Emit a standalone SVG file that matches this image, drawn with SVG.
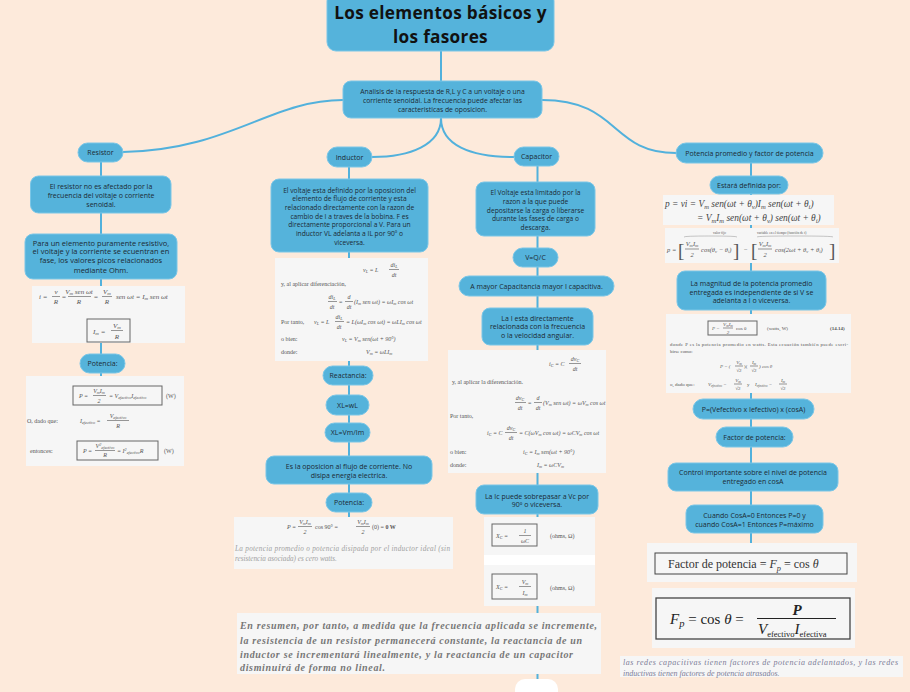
<svg xmlns="http://www.w3.org/2000/svg" width="910" height="692" viewBox="0 0 910 692">
<style>
.bg{fill:#fdeadb}
.n{fill:#55b3db;stroke:#7ac6e7;stroke-width:1}
.t{font-family:"Open Sans","Noto Sans",sans-serif;font-size:7px;fill:#1c2a34;text-anchor:middle}
.c{fill:none;stroke:#52b1dc;stroke-width:2}
.im{fill:#f6f6f6}
.f{font-family:"Liberation Serif",serif;font-size:6px;fill:#555}
.f7{font-size:7px}
.fm{text-anchor:middle}
.i{font-style:italic}
.sb{font-size:70%;baseline-shift:-0.3em}
.sp{font-size:70%;baseline-shift:0.5em}
.fl{stroke:#555;stroke-width:0.6}
.bx{fill:none;stroke:#666;stroke-width:1}
.note{font-family:"Liberation Serif",serif;font-style:italic}
</style>
<rect class="bg" x="0" y="0" width="910" height="692"/>

<g id="connectors">
<path class="c" d="M441,51 V81"/>
<path class="c" d="M343,100 C270,100 230,150 123,152"/>
<path class="c" d="M441,118 C441,145 410,157 372,157"/>
<path class="c" d="M441,118 C441,145 470,157 514,157"/>
<path class="c" d="M542,100 C620,100 610,153 676,153"/>
<path class="c" d="M101,162 V376"/>
<path class="c" d="M349,167 V517"/>
<path class="c" d="M537.5,166 V692"/>
<path class="c" d="M751,163 V543"/>
</g>

<g id="title">
<rect class="n" x="327" y="-8" width="227" height="59" rx="9"/>
<text class="t" style="font-size:17.2px;font-weight:700;fill:#111;letter-spacing:0.3px" x="440.5" y="19">Los elementos básicos y</text>
<text class="t" style="font-size:17.2px;font-weight:700;fill:#111;letter-spacing:0.3px" x="440.5" y="42.5">los fasores</text>
</g>

<g id="central">
<rect class="n" x="343" y="81" width="199" height="37" rx="8"/>
<text class="t" style="font-size:6.8px" x="442.5" y="94">Analisis de la respuesta de R,L y C a un voltaje o una</text>
<text class="t" style="font-size:6.8px" x="442.5" y="102.5">corriente senoidal. La frecuencia puede afectar las</text>
<text class="t" style="font-size:6.8px" x="442.5" y="111.5">caracteristicas de oposicion.</text>
</g>

<!-- Resistor column -->
<g id="resistor">
<rect class="n" x="78" y="143" width="45" height="19" rx="9.5"/>
<text class="t" x="100.5" y="155">Resistor</text>
</g>
<g id="r-noafectado">
<rect class="n" x="30.5" y="176" width="140.5" height="37" rx="8"/>
<text class="t" x="101" y="189">El resistor no es afectado por la</text>
<text class="t" x="101" y="197.5">frecuencia del voltaje o corriente</text>
<text class="t" x="101" y="206.5">senoidal.</text>
</g>
<g id="r-fase">
<rect class="n" x="25" y="234" width="152" height="45" rx="8"/>
<text class="t" style="font-size:7.5px" x="101" y="245.5">Para un elemento puramente resistivo,</text>
<text class="t" style="font-size:7.5px" x="101" y="254">el voltaje y la corriente se ecuentran en</text>
<text class="t" style="font-size:7.5px" x="101" y="263">fase, los valores picos relacionados</text>
<text class="t" style="font-size:7.5px" x="101" y="272.5">mediante Ohm.</text>
</g>
<g id="r-formula1">
<rect class="im" x="32" y="286" width="153" height="57"/>
<text class="f f7 i" x="39" y="299">i =</text>
<text class="f f7 i fm" x="56" y="294">v</text>
<line class="fl" x1="52" y1="296.5" x2="60" y2="296.5"/>
<text class="f f7 i fm" x="56" y="304">R</text>
<text class="f f7" x="62" y="299">=</text>
<text class="f f7 i fm" x="79" y="294">V<tspan class="sb">m</tspan> sen ωt</text>
<line class="fl" x1="68" y1="296.5" x2="91" y2="296.5"/>
<text class="f f7 i fm" x="79" y="304">R</text>
<text class="f f7" x="94" y="299">=</text>
<text class="f f7 i fm" x="107" y="294">V<tspan class="sb">m</tspan></text>
<line class="fl" x1="102" y1="296.5" x2="112" y2="296.5"/>
<text class="f f7 i fm" x="107" y="304">R</text>
<text class="f f7 i" x="116" y="299">sen ωt = I<tspan class="sb">m</tspan> sen ωt</text>
<rect class="bx" x="87" y="319" width="43" height="23"/>
<text class="f f7 i" x="93" y="334">I<tspan class="sb">m</tspan> =</text>
<text class="f f7 i fm" x="117" y="328">V<tspan class="sb">m</tspan></text>
<line class="fl" x1="111" y1="330.5" x2="123" y2="330.5"/>
<text class="f f7 i fm" x="117" y="339">R</text>
</g>
<g id="r-potencia">
<rect class="n" x="80" y="354" width="45" height="19" rx="9.5"/>
<text class="t" x="102.5" y="366">Potencia:</text>
</g>
<g id="r-formula2">
<rect class="im" x="26" y="376" width="158" height="90"/>
<rect class="bx" x="73" y="386" width="89" height="19"/>
<text class="f i" x="79" y="398">P =</text>
<text class="f i fm" x="99" y="393">V<tspan class="sb">m</tspan>I<tspan class="sb">m</tspan></text>
<line class="fl" x1="93" y1="395.5" x2="106" y2="395.5"/>
<text class="f i fm" x="99" y="403">2</text>
<text class="f i" x="109" y="398">= V<tspan class="sb">efectivo</tspan>I<tspan class="sb">efectivo</tspan></text>
<text class="f" x="166" y="398">(W)</text>
<text class="f" x="27" y="423">O, dado que:</text>
<text class="f i" x="80" y="423">I<tspan class="sb">efectivo</tspan> =</text>
<text class="f i fm" x="118" y="418">V<tspan class="sb">efectivo</tspan></text>
<line class="fl" x1="107" y1="420.5" x2="129" y2="420.5"/>
<text class="f i fm" x="118" y="428">R</text>
<text class="f" x="30" y="453">entonces:</text>
<rect class="bx" x="77" y="441" width="81" height="19"/>
<text class="f i" x="83" y="453">P =</text>
<text class="f i fm" x="105" y="448">V<tspan class="sp">2</tspan><tspan class="sb">efectivo</tspan></text>
<line class="fl" x1="95" y1="450.5" x2="115" y2="450.5"/>
<text class="f i fm" x="105" y="457">R</text>
<text class="f i" x="117" y="453">= I<tspan class="sp">2</tspan><tspan class="sb">efectivo</tspan>R</text>
<text class="f" x="164" y="453">(W)</text>
</g>

<!-- Inductor column -->
<g id="inductor">
<rect class="n" x="327" y="147" width="45" height="20" rx="10"/>
<text class="t" x="349.5" y="159.5">Inductor</text>
</g>
<g id="i-definido">
<rect class="n" x="271" y="179" width="157" height="73" rx="8"/>
<text class="t" style="font-size:6.7px" x="349.5" y="192.5">El voltaje esta definido por la oposicion del</text>
<text class="t" style="font-size:6.7px" x="349.5" y="201">elemento de flujo de corriente y esta</text>
<text class="t" style="font-size:6.7px" x="349.5" y="209.5">relacionado directamente con la razon de</text>
<text class="t" style="font-size:6.7px" x="349.5" y="218.5">cambio de I a traves de la bobina. F es</text>
<text class="t" style="font-size:6.7px" x="349.5" y="227">directamente proporcional a V. Para un</text>
<text class="t" style="font-size:6.7px" x="349.5" y="235.5">inductor VL adelanta a IL por 90º o</text>
<text class="t" style="font-size:6.7px" x="349.5" y="244.5">viceversa.</text>
</g>
<g id="i-formula">
<rect class="im" x="275" y="258" width="153" height="103"/>
<text class="f i" x="363" y="272">v<tspan class="sb">L</tspan> = L</text>
<text class="f i fm" x="394" y="267">di<tspan class="sb">L</tspan></text>
<line class="fl" x1="389" y1="269.5" x2="399" y2="269.5"/>
<text class="f i fm" x="394" y="277">dt</text>
<text class="f" x="281" y="286">y, al aplicar diferenciación,</text>
<text class="f i fm" x="332" y="299">di<tspan class="sb">L</tspan></text>
<line class="fl" x1="328" y1="301.5" x2="337" y2="301.5"/>
<text class="f i fm" x="332" y="309">dt</text>
<text class="f" x="339" y="304">=</text>
<text class="f i fm" x="349" y="299">d</text>
<line class="fl" x1="345" y1="301.5" x2="353" y2="301.5"/>
<text class="f i fm" x="349" y="309">dt</text>
<text class="f i" x="354" y="304">(I<tspan class="sb">m</tspan> sen ωt) = ωI<tspan class="sb">m</tspan> cos ωt</text>
<text class="f" x="281" y="324">Por tanto,</text>
<text class="f i" x="314" y="324">v<tspan class="sb">L</tspan> = L</text>
<text class="f i fm" x="339" y="319">di<tspan class="sb">L</tspan></text>
<line class="fl" x1="335" y1="321.5" x2="344" y2="321.5"/>
<text class="f i fm" x="339" y="329">dt</text>
<text class="f i" x="346" y="324">= L(ωI<tspan class="sb">m</tspan> cos ωt) = ωLI<tspan class="sb">m</tspan> cos ωt</text>
<text class="f" x="281" y="341">o bien:</text>
<text class="f i" x="342" y="341">v<tspan class="sb">L</tspan> = V<tspan class="sb">m</tspan> sen(ωt + 90°)</text>
<text class="f" x="281" y="354">donde:</text>
<text class="f i" x="366" y="354">V<tspan class="sb">m</tspan> = ωLI<tspan class="sb">m</tspan></text>
</g>
<g id="i-reactancia">
<rect class="n" x="323" y="366" width="50" height="19" rx="9.5"/>
<text class="t" x="348" y="378">Reactancia:</text>
</g>
<g id="i-xlwl">
<rect class="n" x="326" y="395" width="43" height="20" rx="10"/>
<text class="t" x="347.5" y="407.5">XL=wL</text>
</g>
<g id="i-xlvm">
<rect class="n" x="325" y="423" width="45" height="19" rx="9.5"/>
<text class="t" x="347.5" y="435">XL=Vm/Im</text>
</g>
<g id="i-oposicion">
<rect class="n" x="266" y="456" width="166" height="28" rx="8"/>
<text class="t" x="349" y="469">Es la oposicion al flujo de corriente. No</text>
<text class="t" x="349" y="477.5">disipa energia electrica.</text>
</g>
<g id="i-potencia">
<rect class="n" x="326" y="493" width="46" height="19" rx="9.5"/>
<text class="t" x="349" y="505">Potencia:</text>
</g>
<g id="i-formula2">
<rect class="im" x="234" y="517" width="219" height="52"/>
<text class="f i" x="287" y="529">P =</text>
<text class="f i fm" x="305" y="524">V<tspan class="sb">m</tspan>I<tspan class="sb">m</tspan></text>
<line class="fl" x1="298" y1="526.5" x2="312" y2="526.5"/>
<text class="f i fm" x="305" y="534">2</text>
<text class="f" x="315" y="529">cos 90° =</text>
<text class="f i fm" x="363" y="524">V<tspan class="sb">m</tspan>I<tspan class="sb">m</tspan></text>
<line class="fl" x1="356" y1="526.5" x2="370" y2="526.5"/>
<text class="f i fm" x="363" y="534">2</text>
<text class="f" x="372" y="529">(0) = <tspan font-weight="bold">0 W</tspan></text>
<text class="note" style="font-size:7.2px;fill:#a0a0a0" x="235" y="551" textLength="215">La potencia promedio o potencia disipada por el inductor ideal (sin</text>
<text class="note" style="font-size:7.2px;fill:#a0a0a0" x="235" y="561">resistencia asociada) es cero watts.</text>
</g>

<!-- Capacitor column -->
<g id="capacitor">
<rect class="n" x="514" y="147" width="45" height="19" rx="9.5"/>
<text class="t" x="536.5" y="159">Capacitor</text>
</g>
<g id="c-limitado">
<rect class="n" x="476" y="182" width="119" height="54" rx="8"/>
<text class="t" style="font-size:6.7px" x="535.5" y="195">El Voltaje esta limitado por la</text>
<text class="t" style="font-size:6.7px" x="535.5" y="203.5">razon a la que puede</text>
<text class="t" style="font-size:6.7px" x="535.5" y="212.5">depositarse la carga o liberarse</text>
<text class="t" style="font-size:6.7px" x="535.5" y="221">durante las fases de carga o</text>
<text class="t" style="font-size:6.7px" x="535.5" y="230">descarga.</text>
</g>
<g id="c-vqc">
<rect class="n" x="513" y="248" width="45" height="19" rx="9.5"/>
<text class="t" x="535.5" y="260">V=Q/C</text>
</g>
<g id="c-mayor">
<rect class="n" x="459" y="276" width="155" height="20" rx="10"/>
<text class="t" x="536.5" y="288.5">A mayor Capacitancia mayor I capacitiva.</text>
</g>
<g id="c-frecuencia">
<rect class="n" x="482" y="308" width="111" height="37" rx="8"/>
<text class="t" x="537.5" y="320.5">La I esta directamente</text>
<text class="t" x="537.5" y="329">relacionada con la frecuencia</text>
<text class="t" x="537.5" y="338">o la velocidad angular.</text>
</g>
<g id="c-formula">
<rect class="im" x="448" y="350" width="158" height="123"/>
<text class="f i" x="549" y="366">i<tspan class="sb">C</tspan> = C</text>
<text class="f i fm" x="575" y="361">dv<tspan class="sb">C</tspan></text>
<line class="fl" x1="569" y1="363.5" x2="581" y2="363.5"/>
<text class="f i fm" x="575" y="371">dt</text>
<text class="f" x="452" y="384">y, al aplicar la diferenciación.</text>
<text class="f i fm" x="520" y="400">dv<tspan class="sb">C</tspan></text>
<line class="fl" x1="515" y1="402.5" x2="526" y2="402.5"/>
<text class="f i fm" x="520" y="410">dt</text>
<text class="f" x="528" y="405">=</text>
<text class="f i fm" x="538" y="400">d</text>
<line class="fl" x1="534" y1="402.5" x2="542" y2="402.5"/>
<text class="f i fm" x="538" y="410">dt</text>
<text class="f i" x="543" y="405">(V<tspan class="sb">m</tspan> sen ωt) = ωV<tspan class="sb">m</tspan> cos ωt</text>
<text class="f" x="450" y="418">Por tanto,</text>
<text class="f i" x="487" y="435">i<tspan class="sb">C</tspan> = C</text>
<text class="f i fm" x="511" y="430">dv<tspan class="sb">C</tspan></text>
<line class="fl" x1="505" y1="432.5" x2="517" y2="432.5"/>
<text class="f i fm" x="511" y="440">dt</text>
<text class="f i" x="519" y="435">= C(ωV<tspan class="sb">m</tspan> cos ωt) = ωCV<tspan class="sb">m</tspan> cos ωt</text>
<text class="f" x="450" y="454">o bien:</text>
<text class="f i" x="523" y="454">i<tspan class="sb">C</tspan> = I<tspan class="sb">m</tspan> sen(ωt + 90°)</text>
<text class="f" x="450" y="467">donde:</text>
<text class="f i" x="537" y="467">I<tspan class="sb">m</tspan> = ωCV<tspan class="sb">m</tspan></text>
</g>
<g id="c-sobrepasar">
<rect class="n" x="476" y="485" width="122" height="29" rx="8"/>
<text class="t" x="537" y="498.5">La Ic puede sobrepasar a Vc por</text>
<text class="t" x="537" y="507">90º o viceversa.</text>
</g>
<g id="c-formula2">
<rect class="im" x="484" y="517" width="111" height="89"/>
<rect x="484" y="555" width="111" height="10" fill="#ffffff"/>
<rect class="bx" x="492" y="524" width="45" height="22"/>
<text class="f i" x="496" y="538">X<tspan class="sb">C</tspan> =</text>
<text class="f i fm" x="525" y="533">1</text>
<line class="fl" x1="519" y1="535.5" x2="531" y2="535.5"/>
<text class="f i fm" x="525" y="543">ωC</text>
<text class="f" x="550" y="538">(ohms, Ω)</text>
<rect class="bx" x="492" y="574" width="45" height="25"/>
<text class="f i" x="496" y="589">X<tspan class="sb">C</tspan> =</text>
<text class="f i fm" x="525" y="584">V<tspan class="sb">m</tspan></text>
<line class="fl" x1="519" y1="586.5" x2="531" y2="586.5"/>
<text class="f i fm" x="525" y="595">I<tspan class="sb">m</tspan></text>
<text class="f" x="550" y="590">(ohms, Ω)</text>
</g>
<g id="resumen">
<rect class="im" x="237" y="613" width="364" height="61"/>
<text class="note" style="font-size:10px;font-weight:bold;fill:#767676" x="240" y="629" textLength="357">En resumen, por tanto, a medida que la frecuencia aplicada se incremente,</text>
<text class="note" style="font-size:10px;font-weight:bold;fill:#767676" x="240" y="643.5" textLength="342">la resistencia de un resistor permanecerá constante, la reactancia de un</text>
<text class="note" style="font-size:10px;font-weight:bold;fill:#767676" x="240" y="657.5" textLength="333">inductor se incrementará linealmente, y la reactancia de un capacitor</text>
<text class="note" style="font-size:10px;font-weight:bold;fill:#767676" x="240" y="671" textLength="145">disminuirá de forma no lineal.</text>
</g>
<g id="c-bottom">
<rect x="515" y="679" width="43" height="30" rx="10" fill="#ffffff"/>
</g>

<!-- Potencia column -->
<g id="potencia-promedio">
<rect class="n" x="676" y="143" width="147" height="20" rx="10"/>
<text class="t" x="749.5" y="155.5">Potencia promedio y factor de potencia</text>
</g>
<g id="p-definida">
<rect class="n" x="710" y="176" width="78" height="18" rx="9"/>
<text class="t" x="749" y="187.5">Estará definida por:</text>
</g>
<g id="p-formula1">
<rect class="im" x="663" y="195" width="171" height="30"/>
<text class="f i" style="font-size:9.4px;fill:#444" x="665" y="207">p = vi = V<tspan class="sb">m</tspan> sen(ωt + θ<tspan class="sb">v</tspan>)I<tspan class="sb">m</tspan> sen(ωt + θ<tspan class="sb">i</tspan>)</text>
<text class="f i" style="font-size:9.4px;fill:#444" x="697" y="221">= V<tspan class="sb">m</tspan>I<tspan class="sb">m</tspan> sen(ωt + θ<tspan class="sb">v</tspan>) sen(ωt + θ<tspan class="sb">i</tspan>)</text>
</g>
<g id="p-formula2">
<rect class="im" x="665" y="228" width="174" height="35"/>
<text class="f" style="font-size:3.5px" x="713" y="234">valor fijo</text>
<text class="f" style="font-size:3.5px" x="757" y="234">variable en el tiempo (función de t)</text>
<path d="M684,237 Q684,236 710,236 Q737,236 737,237 M757,237 Q757,236 795,236 Q833,236 833,237" fill="none" stroke="#777" stroke-width="0.4"/>
<text class="f i" style="font-size:6.5px" x="667" y="252">p =</text>
<text class="f" style="font-size:19px" x="678" y="257">[</text>
<text class="f i fm" style="font-size:6.5px" x="692" y="246">V<tspan class="sb">m</tspan>I<tspan class="sb">m</tspan></text>
<line class="fl" x1="685" y1="249" x2="699" y2="249"/>
<text class="f i fm" style="font-size:6.5px" x="692" y="257">2</text>
<text class="f i" style="font-size:6.5px" x="701" y="252">cos(θ<tspan class="sb">v</tspan> − θ<tspan class="sb">i</tspan>)</text>
<text class="f" style="font-size:19px" x="733" y="257">]</text>
<text class="f" style="font-size:6.5px" x="744" y="252">−</text>
<text class="f" style="font-size:19px" x="751" y="257">[</text>
<text class="f i fm" style="font-size:6.5px" x="765" y="246">V<tspan class="sb">m</tspan>I<tspan class="sb">m</tspan></text>
<line class="fl" x1="758" y1="249" x2="772" y2="249"/>
<text class="f i fm" style="font-size:6.5px" x="765" y="257">2</text>
<text class="f i" style="font-size:6.5px" x="775" y="252">cos(2ωt + θ<tspan class="sb">v</tspan> + θ<tspan class="sb">i</tspan>)</text>
<text class="f" style="font-size:19px" x="829" y="257">]</text>
</g>
<g id="p-magnitud">
<rect class="n" x="677" y="271" width="149" height="39" rx="8"/>
<text class="t" x="751.5" y="285.5">La magnitud de la potencia promedio</text>
<text class="t" x="751.5" y="294.5">entregada es independiente de si V se</text>
<text class="t" x="751.5" y="303">adelanta a I o viceversa.</text>
</g>
<g id="p-formula3">
<rect class="im" x="666" y="314" width="185" height="79"/>
<rect class="bx" x="708" y="321" width="49" height="14" stroke-width="0.8"/>
<text class="f i" style="font-size:5px" x="712" y="330">P =</text>
<text class="f i fm" style="font-size:5px" x="728" y="326">V<tspan class="sb">m</tspan>I<tspan class="sb">m</tspan></text>
<line class="fl" x1="723" y1="328" x2="733" y2="328" stroke-width="0.4"/>
<text class="f i fm" style="font-size:5px" x="728" y="333.5">2</text>
<text class="f" style="font-size:5px" x="736" y="330">cos θ</text>
<text class="f" style="font-size:5px" x="767" y="330">(watts, W)</text>
<text class="f" style="font-size:5px;font-weight:bold" x="830" y="330">(14.14)</text>
<text class="f" style="font-size:4.8px" x="670" y="346" textLength="178">donde P es la potencia promedio en watts. Esta ecuación también puede escri-</text>
<text class="f" style="font-size:4.8px" x="670" y="353">birse como:</text>
<text class="f i" style="font-size:5px" x="720" y="368">P = (</text>
<text class="f i fm" style="font-size:5px" x="739" y="364">V<tspan class="sb">m</tspan></text>
<line class="fl" x1="735" y1="366" x2="743" y2="366" stroke-width="0.4"/>
<text class="f fm" style="font-size:5px" x="739" y="372">√2</text>
<text class="f" style="font-size:5px" x="744" y="368">)(</text>
<text class="f i fm" style="font-size:5px" x="754" y="364">I<tspan class="sb">m</tspan></text>
<line class="fl" x1="750" y1="366" x2="758" y2="366" stroke-width="0.4"/>
<text class="f fm" style="font-size:5px" x="754" y="372">√2</text>
<text class="f i" style="font-size:5px" x="759" y="368">) cos θ</text>
<text class="f" style="font-size:5px" x="670" y="386">o, dado que:</text>
<text class="f i" style="font-size:5px" x="708" y="386">V<tspan class="sb">efectivo</tspan> =</text>
<text class="f i fm" style="font-size:5px" x="738" y="382">V<tspan class="sb">m</tspan></text>
<line class="fl" x1="734" y1="384" x2="742" y2="384" stroke-width="0.4"/>
<text class="f fm" style="font-size:5px" x="738" y="390">√2</text>
<text class="f" style="font-size:5px" x="747" y="386">y</text>
<text class="f i" style="font-size:5px" x="755" y="386">I<tspan class="sb">efectivo</tspan> =</text>
<text class="f i fm" style="font-size:5px" x="783" y="382">I<tspan class="sb">m</tspan></text>
<line class="fl" x1="779" y1="384" x2="787" y2="384" stroke-width="0.4"/>
<text class="f fm" style="font-size:5px" x="783" y="390">√2</text>
</g>
<g id="p-vefectivo">
<rect class="n" x="693" y="399" width="121" height="20" rx="10"/>
<text class="t" x="753.5" y="411.5">P=(Vefectivo x Iefectivo) x (cosA)</text>
</g>
<g id="p-factor">
<rect class="n" x="716" y="427" width="77" height="20" rx="10"/>
<text class="t" x="754.5" y="439.5">Factor de potencia:</text>
</g>
<g id="p-control">
<rect class="n" x="668" y="463" width="170" height="28" rx="8"/>
<text class="t" x="753" y="475">Control importante sobre el nivel de potencia</text>
<text class="t" x="753" y="484">entregado en cosA</text>
</g>
<g id="p-cuando">
<rect class="n" x="686" y="505" width="137" height="28" rx="8"/>
<text class="t" x="754.5" y="517.5">Cuando CosA=0 Entonces P=0 y</text>
<text class="t" x="754.5" y="526.5">cuando CosA=1 Entonces P=máximo</text>
</g>
<g id="p-formula4">
<rect class="im" x="647" y="543" width="210" height="39"/>
<rect x="655" y="553" width="192" height="21" fill="none" stroke="#444" stroke-width="1"/>
<text class="f" style="font-size:12px;fill:#333" x="668" y="568">Factor de potencia = <tspan font-style="italic">F<tspan class="sb">p</tspan></tspan> = cos <tspan font-style="italic">θ</tspan></text>
</g>
<g id="p-formula5">
<rect class="im" x="652" y="588" width="203" height="60"/>
<rect x="656" y="598" width="194" height="41" fill="none" stroke="#444" stroke-width="1.3"/>
<text class="f" style="font-size:15px;fill:#222" x="670" y="624"><tspan font-style="italic">F<tspan class="sb">p</tspan></tspan> = cos <tspan font-style="italic">θ</tspan> =</text>
<text class="f fm" style="font-size:15px;fill:#222;font-style:italic;font-weight:bold" x="797" y="615">P</text>
<line x1="757" y1="618.5" x2="836" y2="618.5" stroke="#222" stroke-width="1"/>
<text class="f" style="font-size:15px;fill:#222;font-style:italic" x="758" y="634">V<tspan style="font-size:8.5px;font-style:normal" baseline-shift="-3">efectivo</tspan>I<tspan style="font-size:8.5px;font-style:normal" baseline-shift="-3">efectiva</tspan></text>
</g>
<g id="p-nota">
<rect class="im" x="620" y="656" width="283" height="21"/>
<text class="note" style="font-size:8px;fill:#7c7c96" x="623" y="665" textLength="275">las redes capacitivas tienen factores de potencia  adelantados, y las redes</text>
<text class="note" style="font-size:8px;fill:#7c7c96" x="623" y="675.5">inductivas tienen factores de potencia atrasados.</text>
</g>
</svg>
